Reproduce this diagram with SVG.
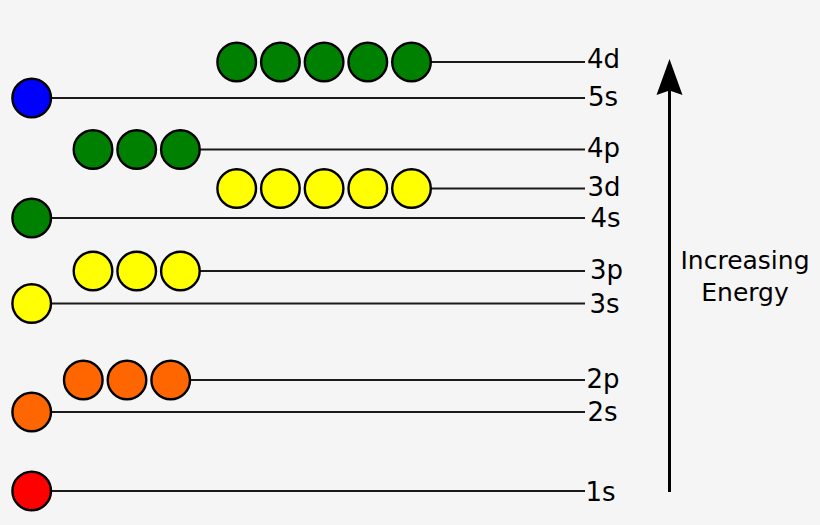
<svg xmlns="http://www.w3.org/2000/svg" width="820" height="525" viewBox="0 0 820 525">
<defs>
<style>
.bg{fill:#f5f5f5}
.lv{stroke:#1a1a1a;stroke-width:1.8;fill:none}
circle{stroke:#000;stroke-width:2.4}
.g{fill:#008000}.b{fill:#0000ff}.y{fill:#ffff00}.o{fill:#ff6600}.r{fill:#ff0000}
.lb{font-family:"DejaVu Sans","Liberation Sans",sans-serif;font-size:26px;fill:#000}
.en{font-family:"DejaVu Sans","Liberation Sans",sans-serif;font-size:25px;fill:#000;text-anchor:middle}
</style>
</defs>
<rect class="bg" x="0" y="0" width="820" height="525"/>
<g id="level-4d">
<line class="lv" x1="411.5" y1="62" x2="585" y2="62"/>
<circle class="g" cx="236.7" cy="62" r="19.3"/><circle class="g" cx="280.4" cy="62" r="19.3"/><circle class="g" cx="324.1" cy="62" r="19.3"/><circle class="g" cx="367.8" cy="62" r="19.3"/><circle class="g" cx="411.5" cy="62" r="19.3"/>
<text class="lb" x="587" y="67.5">4d</text>
</g>
<g id="level-5s">
<line class="lv" x1="31.7" y1="98" x2="585" y2="98"/>
<circle class="b" cx="31.7" cy="98" r="19.3"/>
<text class="lb" x="588" y="105.5">5s</text>
</g>
<g id="level-4p">
<line class="lv" x1="180.4" y1="149.5" x2="585" y2="149.5"/>
<circle class="g" cx="93" cy="149.5" r="19.3"/><circle class="g" cx="136.7" cy="149.5" r="19.3"/><circle class="g" cx="180.4" cy="149.5" r="19.3"/>
<text class="lb" x="587" y="157">4p</text>
</g>
<g id="level-3d">
<line class="lv" x1="411.5" y1="188.5" x2="585" y2="188.5"/>
<circle class="y" cx="236.7" cy="188.5" r="19.3"/><circle class="y" cx="280.4" cy="188.5" r="19.3"/><circle class="y" cx="324.1" cy="188.5" r="19.3"/><circle class="y" cx="367.8" cy="188.5" r="19.3"/><circle class="y" cx="411.5" cy="188.5" r="19.3"/>
<text class="lb" x="587.5" y="196">3d</text>
</g>
<g id="level-4s">
<line class="lv" x1="31.7" y1="218" x2="585" y2="218"/>
<circle class="g" cx="31.7" cy="218" r="19.3"/>
<text class="lb" x="590.5" y="226.5">4s</text>
</g>
<g id="level-3p">
<line class="lv" x1="180.4" y1="271" x2="585" y2="271"/>
<circle class="y" cx="93" cy="271" r="19.3"/><circle class="y" cx="136.7" cy="271" r="19.3"/><circle class="y" cx="180.4" cy="271" r="19.3"/>
<text class="lb" x="590" y="278.5">3p</text>
</g>
<g id="level-3s">
<line class="lv" x1="31.7" y1="303.5" x2="585" y2="303.5"/>
<circle class="y" cx="31.7" cy="303.5" r="19.3"/>
<text class="lb" x="589.5" y="312.5">3s</text>
</g>
<g id="level-2p">
<line class="lv" x1="170.7" y1="380" x2="585" y2="380"/>
<circle class="o" cx="83.3" cy="380" r="19.3"/><circle class="o" cx="127" cy="380" r="19.3"/><circle class="o" cx="170.7" cy="380" r="19.3"/>
<text class="lb" x="586.5" y="387.5">2p</text>
</g>
<g id="level-2s">
<line class="lv" x1="31.7" y1="412" x2="585" y2="412"/>
<circle class="o" cx="31.7" cy="412" r="19.3"/>
<text class="lb" x="587.5" y="420.5">2s</text>
</g>
<g id="level-1s">
<line class="lv" x1="31.7" y1="491" x2="585" y2="491"/>
<circle class="r" cx="31.7" cy="491" r="19.3"/>
<text class="lb" x="585.5" y="500.5">1s</text>
</g>
<g id="connectors">
<line x1="669.5" y1="492" x2="669.5" y2="88" stroke="#000" stroke-width="3"/>
<path d="M669.5,59 L682.5,95 L669.5,90.5 L656.5,95 Z" fill="#000"/>
</g>
<g id="label-energy">
<text class="en" x="745" y="269">Increasing</text>
<text class="en" x="745" y="301">Energy</text>
</g>
</svg>
